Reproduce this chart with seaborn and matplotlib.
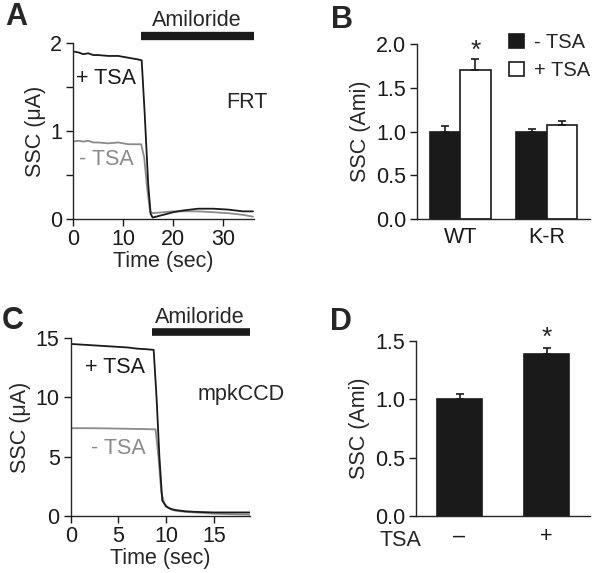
import numpy as np
import pandas as pd
import matplotlib
matplotlib.use('Agg')
import matplotlib.pyplot as plt
import seaborn as sns

# panel A: FRT traces
t_frt_plus = [0, 1, 2, 3, 4, 5, 7, 9, 11, 13, 13.7, 14.3, 15, 15.5, 15.9, 18, 20, 22, 25, 28, 31, 34, 36]
ssc_frt_plus = [1.90, 1.89, 1.87, 1.88, 1.86, 1.86, 1.85, 1.85, 1.83, 1.81, 1.80, 1.20, 0.40, 0.06, 0.02,
                0.05, 0.08, 0.10, 0.12, 0.12, 0.11, 0.09, 0.09]
t_frt_minus = [0, 1, 2, 3, 4, 5, 7, 9, 11, 13, 13.6, 14.2, 14.8, 15.4, 16, 18, 20, 22, 25, 28, 31, 34, 36]
ssc_frt_minus = [0.88, 0.89, 0.88, 0.89, 0.87, 0.87, 0.86, 0.87, 0.85, 0.85, 0.85, 0.70, 0.35, 0.08, 0.07,
                 0.08, 0.09, 0.09, 0.09, 0.08, 0.07, 0.05, 0.03]

# panel B: FRT summary
genotypes = ['WT', 'WT', 'K-R', 'K-R']
treatments = ['- TSA', '+ TSA', '- TSA', '+ TSA']
ssc_b = [1.00, 1.70, 1.00, 1.07]
sem_b = [0.06, 0.13, 0.03, 0.05]

# panel C: mpkCCD traces
t_ccd_plus = [0, 1, 2, 3, 4, 5, 6, 7, 8, 8.7, 9.0, 9.3, 9.6, 10, 10.5, 11, 12, 13, 15, 17, 18.8]
ssc_ccd_plus = [14.5, 14.45, 14.4, 14.35, 14.3, 14.25, 14.2, 14.1, 14.05, 14.0, 10.0, 5.0, 1.3, 0.8,
                0.6, 0.5, 0.4, 0.35, 0.3, 0.3, 0.3]
t_ccd_minus = [0, 2, 4, 6, 8, 8.9, 9.2, 9.5, 9.8, 10.2, 10.7, 11, 12, 13, 15, 17, 18.8]
ssc_ccd_minus = [7.4, 7.4, 7.38, 7.35, 7.32, 7.3, 5.0, 2.0, 1.1, 0.7, 0.5, 0.45, 0.35, 0.3, 0.2, 0.15, 0.12]

# panel D: mpkCCD summary
tsa_d = ['–', '+']
ssc_d = [1.00, 1.39]
sem_d = [0.05, 0.05]

black = '#1a1a1a'
gray = '#8a8a8a'
fs = 15.5

sns.set_style('ticks')
plt.rcParams['font.family'] = ['Liberation Sans', 'DejaVu Sans']
plt.rcParams['font.size'] = fs
plt.rcParams['axes.linewidth'] = 1.0
plt.rcParams['xtick.major.width'] = 1.0
plt.rcParams['ytick.major.width'] = 1.0
plt.rcParams['xtick.major.size'] = 5
plt.rcParams['ytick.major.size'] = 5
plt.rcParams['xtick.major.pad'] = 2
plt.rcParams['ytick.major.pad'] = 3
plt.rcParams['xtick.labelsize'] = fs
plt.rcParams['ytick.labelsize'] = fs
plt.rcParams['axes.labelsize'] = fs

W, H = 600, 573
fig = plt.figure(figsize=(6, 5.73), dpi=100)


def add_ax(left, top, right, bottom):
    return fig.add_axes([left / W, 1 - bottom / H, (right - left) / W, (bottom - top) / H])


def style(ax):
    sns.despine(ax=ax)
    ax.tick_params(direction='out', colors=black, labelcolor=black)


# ---- A ----
axA = add_ax(73.3, 42.7, 254, 219.3)
sns.lineplot(x=t_frt_minus, y=ssc_frt_minus, ax=axA, color=gray, lw=1.3, estimator=None)
sns.lineplot(x=t_frt_plus, y=ssc_frt_plus, ax=axA, color=black, lw=1.3, estimator=None)
axA.set_xlim(0, 36.2)
axA.set_ylim(0, 2)
axA.set_xticks([0, 10, 20, 30])
axA.set_yticks([0, 0.5, 1, 1.5, 2])
axA.set_yticklabels(['0', '', '1', '', '2'])
axA.set_xlabel('Time (sec)', labelpad=1)
axA.set_ylabel('SSC (μA)', labelpad=3)
style(axA)
axA.plot([13.5, 36.1], [2.08, 2.08], color=black, lw=6, solid_capstyle='butt', clip_on=False)
axA.text(24.7, 2.25, 'Amiloride', ha='center', va='center')
axA.text(6.5, 1.6, '+ TSA', ha='center', va='center', color=black)
axA.text(6.7, 0.68, '- TSA', ha='center', va='center', color=gray)
axA.text(34.7, 1.32, 'FRT', ha='center', va='center', clip_on=False)

# ---- B ----
axB = add_ax(417, 44, 590, 219)
dfB = pd.DataFrame({'genotype': genotypes, 'treatment': treatments, 'ssc': ssc_b})
sns.barplot(data=dfB, x='genotype', y='ssc', hue='treatment', hue_order=['- TSA', '+ TSA'],
            palette=[black, 'white'], edgecolor=black, linewidth=1.2, width=0.7, ax=axB)
bars = [p for p in axB.patches if p.get_height() > 0]
bars = sorted(bars, key=lambda p: p.get_x())
for p, err in zip(bars, sem_b):
    xc = p.get_x() + p.get_width() / 2
    axB.errorbar(xc, p.get_height(), yerr=[[0], [err]], color=black, lw=1.2, capsize=3, capthick=1.2)
axB.text(bars[1].get_x() + bars[1].get_width() / 2, 1.92, '*', ha='center', va='center', fontsize=19)
axB.set_xlim(-0.5, 1.5)
axB.set_ylim(0, 2.0)
axB.set_yticks([0, 0.5, 1.0, 1.5, 2.0])
axB.set_yticklabels(['0.0', '0.5', '1.0', '1.5', '2.0'])
axB.set_xlabel('')
axB.set_ylabel('SSC (Ami)', labelpad=3)
style(axB)
axB.tick_params(axis='x', length=0, pad=6)
leg = axB.legend(loc='upper left', bbox_to_anchor=(509 / W, 1 - 33 / H), bbox_transform=fig.transFigure,
                 frameon=False, handlelength=0.75, handleheight=0.75, handletextpad=0.5,
                 labelspacing=0.45, borderaxespad=0, borderpad=0, fontsize=14.5)
for h in leg.legend_handles:
    h.set_edgecolor(black)
    h.set_linewidth(1.2)

# ---- C ----
axC = add_ax(70.7, 338, 250, 516)
sns.lineplot(x=t_ccd_minus, y=ssc_ccd_minus, ax=axC, color=gray, lw=1.3, estimator=None)
sns.lineplot(x=t_ccd_plus, y=ssc_ccd_plus, ax=axC, color=black, lw=1.3, estimator=None)
axC.set_xlim(0, 18.8)
axC.set_ylim(0, 15)
axC.set_xticks([0, 5, 10, 15])
axC.set_yticks([0, 5, 10, 15])
axC.set_xlabel('Time (sec)', labelpad=1)
axC.set_ylabel('SSC (μA)', labelpad=3)
style(axC)
axC.plot([8.55, 18.8], [15.5, 15.5], color=black, lw=5.5, solid_capstyle='butt', clip_on=False)
axC.text(13.5, 16.7, 'Amiloride', ha='center', va='center')
axC.text(4.6, 12.5, '+ TSA', ha='center', va='center', color=black)
axC.text(5.0, 5.7, '- TSA', ha='center', va='center', color=gray)
axC.text(17.9, 10.2, 'mpkCCD', ha='center', va='center', clip_on=False)

# ---- D ----
axD = add_ax(416, 341, 590, 516)
dfD = pd.DataFrame({'tsa': tsa_d, 'ssc': ssc_d})
sns.barplot(data=dfD, x='tsa', y='ssc', color=black, edgecolor=black, linewidth=1.2, width=0.52,
            saturation=1, ax=axD)
barsD = sorted([p for p in axD.patches], key=lambda p: p.get_x())
for p, err in zip(barsD, sem_d):
    xc = p.get_x() + p.get_width() / 2
    axD.errorbar(xc, p.get_height(), yerr=[[0], [err]], color=black, lw=1.2, capsize=3, capthick=1.2)
axD.text(barsD[1].get_x() + barsD[1].get_width() / 2, 1.53, '*', ha='center', va='center', fontsize=19)
axD.set_xlim(-0.5, 1.5)
axD.set_ylim(0, 1.5)
axD.set_yticks([0, 0.5, 1.0, 1.5])
axD.set_yticklabels(['0.0', '0.5', '1.0', '1.5'])
axD.set_xlabel('')
axD.set_ylabel('SSC (Ami)', labelpad=3)
style(axD)
axD.tick_params(axis='x', length=0, pad=7)
axD.text(400 / W, 1 - 540 / H, 'TSA', transform=fig.transFigure, ha='center', va='center')

# panel letters
for lab, x, y in [('A', 16, 17), ('B', 342, 20), ('C', 13, 321), ('D', 341, 322)]:
    fig.text(x / W, 1 - y / H, lab, ha='center', va='center', fontsize=22, fontweight='bold')

fig.savefig('out.png', dpi=100)
